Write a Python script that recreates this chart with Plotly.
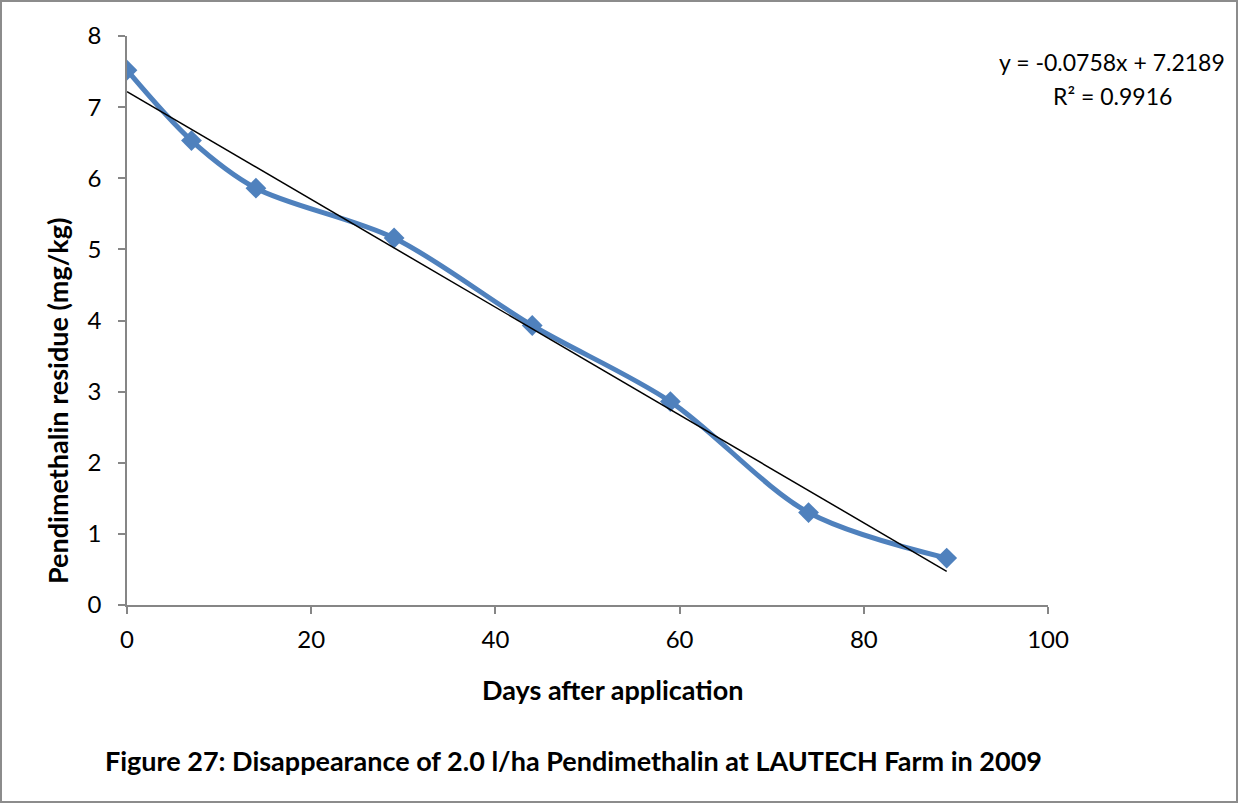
import plotly.graph_objects as go

# Residue measurements (days after application, mg/kg)
days = [0, 7, 14, 29, 44, 59, 74, 89]
residue = [7.52, 6.53, 5.86, 5.16, 3.93, 2.86, 1.30, 0.66]

# Linear trend line coefficients
slope = -0.0758
intercept = 7.2189
r_squared = 0.9916

x_ticks = [0, 20, 40, 60, 80, 100]
y_ticks = [0, 1, 2, 3, 4, 5, 6, 7, 8]

FONT = "Lato, Open Sans, sans-serif"
AXIS_GREY = "#868686"

trend_x = [days[0], days[-1]]
trend_y = [intercept + slope * d for d in trend_x]

fig = go.Figure()
fig.add_trace(go.Scatter(
    x=days, y=residue, mode="lines+markers",
    line=dict(color="#4F81BD", width=5, shape="spline", smoothing=0.9),
    marker=dict(symbol="diamond", size=16, color="#4F81BD"),
    showlegend=False,
))
fig.add_trace(go.Scatter(
    x=trend_x, y=trend_y, mode="lines",
    line=dict(color="black", width=1.5),
    showlegend=False,
))

W, H = 921, 569  # plot area size in px
fig.update_layout(
    width=1238, height=803,
    margin=dict(l=127, r=190, t=36, b=198),
    paper_bgcolor="white", plot_bgcolor="white",
    font=dict(family=FONT, size=20, color="black"),
    xaxis=dict(range=[0, 100], tickvals=x_ticks, showgrid=False, zeroline=False,
               showline=True, linecolor=AXIS_GREY, linewidth=1.5,
               ticks="outside", ticklen=7, tickcolor=AXIS_GREY, tickwidth=1.5,
               tickfont=dict(size=24), ticklabelstandoff=5),
    yaxis=dict(range=[0, 8], tickvals=y_ticks, showgrid=False, zeroline=False,
               showline=True, linecolor=AXIS_GREY, linewidth=1.5,
               ticks="outside", ticklen=7, tickcolor=AXIS_GREY, tickwidth=1.5,
               tickfont=dict(size=24), ticklabelstandoff=12),
    shapes=[dict(type="rect", xref="paper", yref="paper",
                 x0=-(127 - 1) / W, x1=(1238 - 127 - 1) / W,
                 y0=-(198 - 1) / H, y1=(H + 36 - 1) / H,
                 line=dict(color="#8c8c8c", width=2))],
)

fig.add_annotation(text="<b>Days after application</b>", xref="paper", yref="paper",
                   x=(612 - 127) / W, y=-(689 - 605) / H, showarrow=False,
                   font=dict(size=27), xanchor="center", yanchor="middle")
fig.add_annotation(text="<b>Pendimethalin residue (mg/kg)</b>", xref="paper", yref="paper",
                   x=-(127 - 58) / W, y=(605 - 401) / H, showarrow=False, textangle=-90,
                   font=dict(size=27), xanchor="center", yanchor="middle")
fig.add_annotation(text=f"y = {slope}x + {intercept}",
                   xref="paper", yref="paper", x=(1112 - 127) / W, y=(605 - 62) / H,
                   showarrow=False, font=dict(size=23),
                   xanchor="center", yanchor="middle")
fig.add_annotation(text=f"R² = {r_squared}",
                   xref="paper", yref="paper", x=(1112 - 127) / W, y=(605 - 96) / H,
                   showarrow=False, font=dict(size=23),
                   xanchor="center", yanchor="middle")
fig.add_annotation(text="<b>Figure 27: Disappearance of 2.0 l/ha Pendimethalin at LAUTECH Farm in 2009</b>",
                   xref="paper", yref="paper", x=(573 - 127) / W, y=-(760 - 605) / H,
                   showarrow=False, font=dict(size=27), xanchor="center", yanchor="middle")

fig.write_html("out.html")
